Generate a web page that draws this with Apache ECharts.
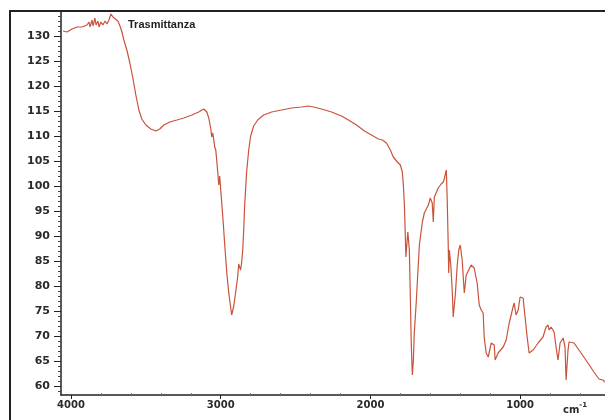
<!DOCTYPE html>
<html>
<head>
<meta charset="utf-8">
<script src="https://cdn.jsdelivr.net/npm/echarts@6/dist/echarts.min.js"></script>
<style>
html,body{margin:0;padding:0;background:#fff;overflow:hidden;}
#wrap{position:relative;width:605px;height:420px;}
#chart{width:605px;height:420px;}
#frame{position:absolute;left:9px;top:10px;width:596px;height:410px;border-left:2px solid #222;border-top:2px solid #222;box-sizing:border-box;pointer-events:none;}
</style>
</head>
<body>
<div id="wrap"><div id="chart"></div><div id="frame"></div></div>
<script>
// Wavenumbers (cm-1)
var wavenumbers = [4053,4027,3993,3960,3927,3893,3880,3873,3860,3853,3840,3833,3820,3813,3800,3787,3773,3760,3747,3733,3720,3707,3687,3673,3660,3647,3627,3607,3587,3567,3547,3527,3500,3467,3433,3407,3380,3340,3293,3247,3193,3147,3113,3093,3080,3067,3060,3053,3040,3033,3027,3020,3013,3007,3000,2987,2973,2960,2947,2933,2927,2913,2900,2887,2880,2867,2860,2853,2847,2840,2827,2813,2800,2780,2753,2713,2660,2593,2527,2460,2413,2380,2353,2340,2327,2260,2193,2147,2093,2040,1993,1947,1920,1893,1867,1847,1820,1800,1787,1780,1773,1767,1763,1757,1750,1740,1733,1727,1720,1713,1707,1693,1687,1673,1653,1640,1613,1600,1587,1580,1573,1547,1527,1513,1507,1493,1487,1480,1477,1473,1463,1453,1447,1433,1420,1410,1400,1387,1380,1373,1360,1347,1327,1307,1287,1273,1260,1247,1240,1227,1213,1193,1173,1167,1147,1113,1093,1073,1047,1040,1027,1013,1000,980,967,953,940,913,880,847,827,813,807,793,773,760,747,733,713,700,693,680,673,640,593,547,507,473,460,447,433];
// Transmittance values
var transmittance = [131.0,130.8,131.4,131.8,131.8,132.2,132.8,131.8,133.2,132.0,133.6,132.2,133.0,131.8,132.8,132.2,133.0,132.4,133.2,134.4,133.8,133.4,133.0,132.0,130.8,129.2,127.2,124.6,121.6,118.2,115.2,113.4,112.2,111.4,111.0,111.4,112.2,112.8,113.2,113.6,114.2,114.8,115.4,114.8,113.6,111.6,109.8,110.6,107.8,107.2,105.2,102.8,100.2,102.0,99.2,94.2,88.2,82.8,78.8,75.6,74.2,76.0,78.8,81.8,84.4,83.2,84.8,87.2,90.8,96.2,102.8,107.2,110.0,112.0,113.2,114.2,114.8,115.2,115.6,115.8,116.0,115.8,115.6,115.9,115.4,114.8,114.0,113.2,112.2,111.0,110.2,109.4,109.2,108.6,107.2,105.8,104.8,104.2,102.8,100.2,96.2,90.2,85.8,88.2,90.8,87.2,77.2,68.2,62.2,65.2,70.6,77.2,80.6,88.2,92.8,94.6,96.2,97.6,96.6,92.8,97.8,99.6,100.4,100.8,101.4,103.2,97.2,87.8,82.6,87.2,84.2,78.8,73.8,78.2,84.2,87.2,88.2,85.2,81.8,78.6,82.2,83.0,84.2,83.6,80.6,76.2,75.2,74.6,69.8,66.6,65.8,68.6,68.2,65.2,66.6,67.8,69.2,72.6,75.8,76.6,74.2,75.2,77.8,77.6,73.8,69.8,66.6,67.2,68.6,69.8,71.8,72.2,71.2,71.8,70.8,67.8,65.2,68.6,69.6,67.8,61.2,67.2,68.8,68.6,66.6,64.6,62.8,61.4,61.0,61.2,60.8];
// Tick labels
var xTickLabels = [4000, 3000, 2000, 1000];
var xMinorTicks = [3800, 3600, 3400, 3200, 2800, 2600, 2400, 2200, 1800, 1600, 1400, 1200, 800, 600];
var yTickLabels = [60, 65, 70, 75, 80, 85, 90, 95, 100, 105, 110, 115, 120, 125, 130];
var yMinorTicks = [];
for (var v = 59; v <= 134; v++) { if (v % 5 !== 0) yMinorTicks.push(v); }

var seriesData = wavenumbers.map(function (w, i) { return [w, transmittance[i]]; });

var chart = echarts.init(document.getElementById('chart'), null, {renderer: 'canvas'});
var axisColor = '#222';
var gridBox = {left: 61, right: 0, top: 12, bottom: 25, containLabel: false};
chart.setOption({
  animation: false,
  backgroundColor: '#ffffff',
  grid: [gridBox, Object.assign({}, gridBox)],
  xAxis: [{
    gridIndex: 0, type: 'value', inverse: true, min: 433, max: 4067, position: 'bottom',
    axisLine: {show: true, lineStyle: {color: axisColor, width: 1.5}},
    axisTick: {show: true, customValues: xTickLabels, length: 4, lineStyle: {color: axisColor, width: 1}},
    axisLabel: {show: true, customValues: xTickLabels, margin: 5, color: '#2a2a2a',
      fontFamily: 'DejaVu Sans', fontWeight: 'bold', fontSize: 10,
      formatter: function (v) { return String(v); }},
    splitLine: {show: false}
  }, {
    gridIndex: 1, type: 'value', inverse: true, min: 433, max: 4067, position: 'bottom',
    axisLine: {show: false},
    axisTick: {show: true, customValues: xMinorTicks, length: 2, inside: true, lineStyle: {color: '#777', width: 1}},
    axisLabel: {show: false},
    splitLine: {show: false}
  }],
  yAxis: [{
    gridIndex: 0, type: 'value', min: 58.2, max: 134.8, position: 'left',
    axisLine: {show: true, lineStyle: {color: axisColor, width: 1.5}},
    axisTick: {show: true, customValues: yTickLabels, length: 7, lineStyle: {color: axisColor, width: 1}},
    axisLabel: {show: true, customValues: yTickLabels, margin: 11, color: '#2a2a2a',
      fontFamily: 'DejaVu Sans', fontWeight: 'bold', fontSize: 11},
    splitLine: {show: false}
  }, {
    gridIndex: 1, type: 'value', min: 58.2, max: 134.8, position: 'left',
    axisLine: {show: false},
    axisTick: {show: true, customValues: yMinorTicks, length: 3, lineStyle: {color: '#444', width: 1}},
    axisLabel: {show: false},
    splitLine: {show: false}
  }],
  graphic: [
    {type: 'text', left: 128, top: 19, silent: true,
      style: {text: 'Trasmittanza', fill: '#222', font: 'bold 11px "Liberation Sans", Arial, sans-serif'}},
    {type: 'text', left: 563, top: 402, silent: true,
      style: {text: '{a|cm}{b|-1}', rich: {
        a: {fontFamily: 'DejaVu Sans', fontWeight: 'bold', fontSize: 10, fill: '#2a2a2a', verticalAlign: 'bottom'},
        b: {fontFamily: 'DejaVu Sans', fontWeight: 'bold', fontSize: 7, fill: '#2a2a2a', padding: [0, 0, 6, 0], verticalAlign: 'top'}
      }}}
  ],
  series: [{
    type: 'line', xAxisIndex: 0, yAxisIndex: 0,
    data: seriesData, showSymbol: false, symbol: 'none', smooth: false,
    lineStyle: {color: '#c9533b', width: 1.2}
  }]
});
</script>
</body>
</html>
